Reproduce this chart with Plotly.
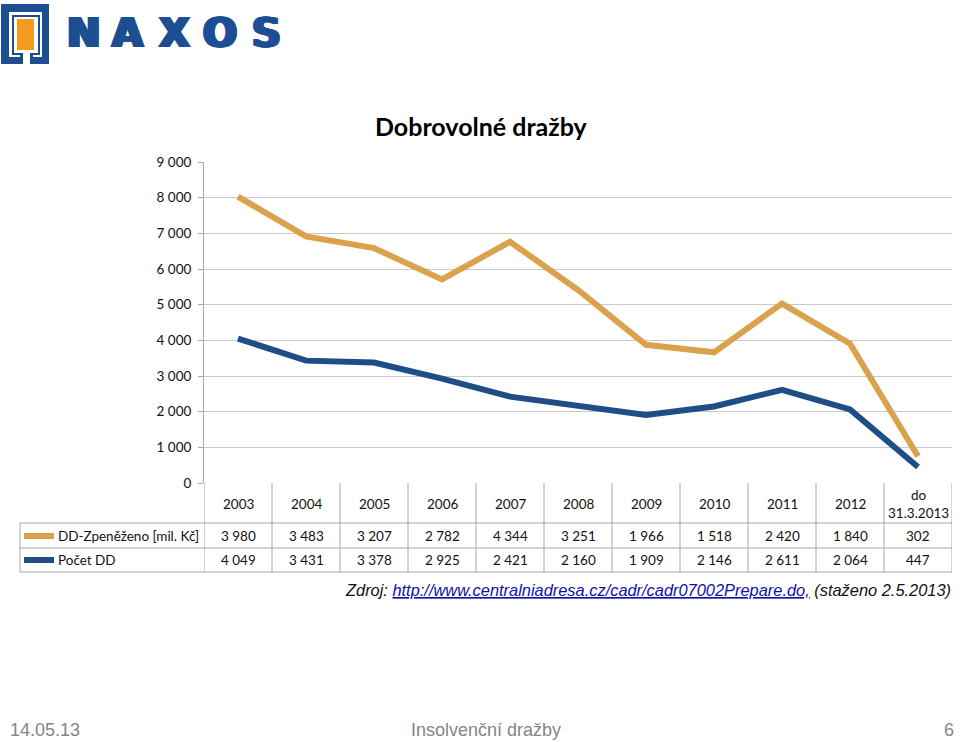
import plotly.graph_objects as go

# ---------------- data ----------------
categories = ["2003", "2004", "2005", "2006", "2007", "2008", "2009", "2010", "2011", "2012", "do 31.3.2013"]
header_labels = ["2003", "2004", "2005", "2006", "2007", "2008", "2009", "2010", "2011", "2012", "do<br>31.3.2013"]
zpenezeno = [3980, 3483, 3207, 2782, 4344, 3251, 1966, 1518, 2420, 1840, 302]
pocet_dd = [4049, 3431, 3378, 2925, 2421, 2160, 1909, 2146, 2611, 2064, 447]
name_zpenezeno = "DD-Zpeněženo [mil. Kč]"
name_pocet = "Počet DD"
y_ticks = [0, 1000, 2000, 3000, 4000, 5000, 6000, 7000, 8000, 9000]
title_text = "Dobrovolné dražby"

# ---------------- styling ----------------
W, H = 960, 742
ORANGE = "#DBA24E"
BLUE = "#1F4D86"
GRID = "#C9C9C9"
TABLE = "#A8A8A8"
FONT = "Lato"
LOGO_BLUE = "#1C4E91"
LOGO_ORANGE = "#F49B1E"


def px(x):
    return x / W


def py(y):
    return 1 - y / H


def fmt(v):
    return f"{v:,}".replace(",", " ")


fig = go.Figure()
fig.add_trace(go.Scatter(x=categories, y=pocet_dd, name=name_pocet, stackgroup="s", fill="none",
                         mode="lines", line=dict(color=BLUE, width=6)))
fig.add_trace(go.Scatter(x=categories, y=zpenezeno, name=name_zpenezeno, stackgroup="s", fill="none",
                         mode="lines", line=dict(color=ORANGE, width=6)))

shapes = []
annotations = []


def ann(x, y, text, xref="paper", xanchor="center", size=13.5, family=FONT, color="#111111", **fextra):
    font = dict(family=family, size=size, color=color)
    font.update(fextra)
    annotations.append(dict(x=x, y=y, xref=xref, yref="paper", text=text, showarrow=False,
                            xanchor=xanchor, yanchor="middle", align="center", font=font))


def rect(x0, y0, x1, y1, color):
    shapes.append(dict(type="rect", xref="paper", yref="paper", x0=px(x0), x1=px(x1),
                       y0=py(y1), y1=py(y0), fillcolor=color, line=dict(width=0), layer="above"))


# table column lines (category boundaries)
for i in range(len(categories) + 1):
    shapes.append(dict(type="line", xref="x", yref="paper", x0=i - 0.5, x1=i - 0.5,
                       y0=py(572), y1=py(483), line=dict(color=TABLE, width=1)))
# table horizontal lines
for yy in (523, 548, 572):
    shapes.append(dict(type="line", xref="paper", yref="paper", x0=px(20), x1=px(952),
                       y0=py(yy), y1=py(yy), line=dict(color=TABLE, width=1)))
shapes.append(dict(type="line", xref="paper", yref="paper", x0=px(20), x1=px(20),
                   y0=py(572), y1=py(523), line=dict(color=TABLE, width=1)))

# header row
for i, lab in enumerate(header_labels):
    ann(i, py(504), lab, xref="x")

# data rows + legend keys
rows = [(name_zpenezeno, zpenezeno, ORANGE, 536), (name_pocet, pocet_dd, BLUE, 560)]
for nm, vals, col, yc in rows:
    shapes.append(dict(type="line", xref="paper", yref="paper", x0=px(24), x1=px(54),
                       y0=py(yc), y1=py(yc), line=dict(color=col, width=6)))
    ann(px(56), py(yc), nm, xanchor="left")
    for i, v in enumerate(vals):
        ann(i, py(yc), fmt(v), xref="x")

# title
ann(px(481), py(126), f"<b>{title_text}</b>", size=25, color="#000000")

# source
ann(px(953), py(590),
    "<i>Zdroj: <span style='color:#1010A8'><u>http://www.centralniadresa.cz/cadr/cadr07002Prepare.do,</u></span> (staženo 2.5.2013)</i>",
    xanchor="right", family="Liberation Sans", size=16.4)

# footer
for txt, xx, anc in (("14.05.13", 8, "left"), ("Insolvenční dražby", 486, "center"), ("6", 956, "right")):
    ann(px(xx), py(730), txt, xanchor=anc, family="Liberation Sans", size=18, color="#858585")

# logo
rect(1, 4, 49, 64, LOGO_BLUE)
rect(9, 12, 42, 57, "white")
rect(12, 15, 40, 55, LOGO_BLUE)
rect(14, 17, 38, 53, "white")
rect(17, 19, 34, 50, LOGO_ORANGE)
rect(20, 53, 33, 64, LOGO_BLUE)
rect(23, 53, 30, 64, "white")

shadow = ", ".join(f"{d}px 0px 0px {LOGO_BLUE}" for d in (-2, -1, 1, 2))
try:
    go.layout.Annotation(text="N", font=dict(shadow=shadow))
    logo_extra = dict(shadow=shadow)
except Exception:
    logo_extra = {}
for ch, xc in zip("NAXOS", (83, 127, 174, 220, 266)):
    ann(px(xc), py(33.5), f"<b>{ch}</b>", family="DejaVu Sans", size=40, color=LOGO_BLUE, **logo_extra)

fig.update_layout(
    width=W, height=H, autosize=False,
    margin=dict(l=0, r=0, t=0, b=0, autoexpand=False),
    paper_bgcolor="white", plot_bgcolor="white",
    showlegend=False, hovermode=False,
    font=dict(family=FONT, size=13.5, color="#111111"),
    shapes=shapes, annotations=annotations,
    xaxis=dict(type="category", categoryorder="array", categoryarray=categories,
               range=[-0.5, len(categories) - 0.5], domain=[px(204), px(952)], automargin=False,
               showticklabels=False, showgrid=False, zeroline=False, showline=False, ticks=""),
    yaxis=dict(range=[0, 9000], domain=[py(483), py(162)], tickvals=y_ticks, automargin=False,
               ticktext=[fmt(v) for v in y_ticks], showgrid=True, gridcolor=GRID, gridwidth=1,
               zeroline=False, showline=True, linecolor=TABLE, linewidth=1,
               ticks="outside", ticklen=5, tickcolor=TABLE, ticklabelstandoff=4,
               tickfont=dict(family=FONT, size=13.5, color="#111111")),
)

fig.write_html("out.html", config={"displayModeBar": False},
               post_script="document.body.style.margin='0';")
